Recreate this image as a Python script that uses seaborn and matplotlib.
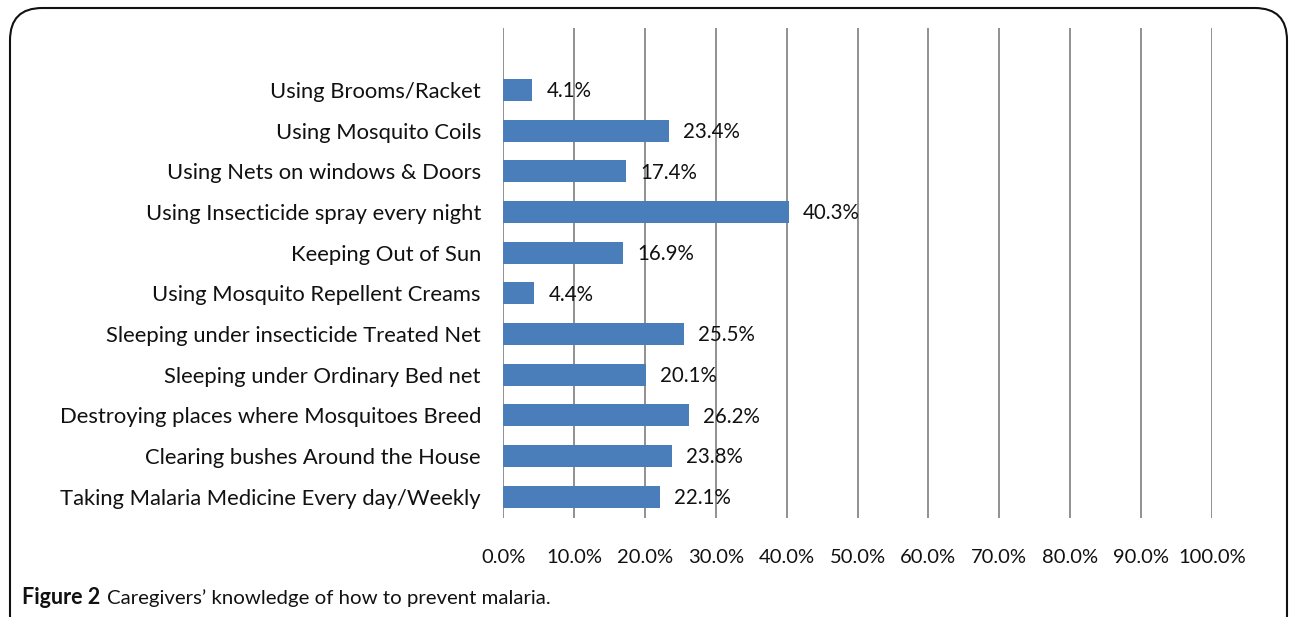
import matplotlib
matplotlib.use("Agg")
import matplotlib.pyplot as plt
import seaborn as sns
import pandas as pd
from matplotlib.patches import FancyBboxPatch

categories = [
    "Using Brooms/Racket",
    "Using Mosquito Coils",
    "Using Nets on windows & Doors",
    "Using Insecticide spray every night",
    "Keeping Out of Sun",
    "Using Mosquito Repellent Creams",
    "Sleeping under insecticide Treated Net",
    "Sleeping under Ordinary Bed net",
    "Destroying places where Mosquitoes Breed",
    "Clearing bushes Around the House",
    "Taking Malaria Medicine Every day/Weekly",
]
values = [4.1, 23.4, 17.4, 40.3, 16.9, 4.4, 25.5, 20.1, 26.2, 23.8, 22.1]
x_ticks = [0, 10, 20, 30, 40, 50, 60, 70, 80, 90, 100]
x_tick_labels = ["0.0%", "10.0%", "20.0%", "30.0%", "40.0%", "50.0%",
                 "60.0%", "70.0%", "80.0%", "90.0%", "100.0%"]

sns.set_theme(style="white")
plt.rcParams["font.family"] = ["Lato", "DejaVu Sans"]

df = pd.DataFrame({"category": categories, "value": values})

fig = plt.figure(figsize=(12.9, 6.17), dpi=100)
ax = fig.add_axes([0.390, 0.1605, 0.5495, 0.794])

sns.barplot(data=df, x="value", y="category", orient="h", color="#4a7ebb",
            saturation=1, width=0.54, linewidth=0, ax=ax, zorder=3)

ax.set_xlim(0, 100)
ax.set_ylim(10.52, -1.52)
ax.set_xticks(x_ticks)
ax.set_xticklabels(x_tick_labels, fontsize=14.5, color="#111111")
ax.grid(axis="x", color="#888888", linewidth=1.3, zorder=0)
ax.grid(axis="y", visible=False)
for s in ax.spines.values():
    s.set_visible(False)
ax.tick_params(axis="x", length=0, pad=22)
ax.tick_params(axis="y", length=0, pad=16, labelsize=15.8, labelcolor="#111111")
ax.set_xlabel("")
ax.set_ylabel("")

for i, v in enumerate(values):
    ax.text(v + 2.0, i + 0.03, f"{v:.1f}%", va="center", ha="left",
            fontsize=14.8, color="#111111", zorder=4)

# rounded frame
frame = FancyBboxPatch((10 / 1290, -0.05), 1277 / 1290, 1 - 8 / 617 + 0.05,
                       boxstyle="round,pad=0,rounding_size=0.025",
                       transform=fig.transFigure, fill=False,
                       edgecolor="#111111", linewidth=1.5, clip_on=False,
                       mutation_aspect=1290 / 617)
fig.patches.append(frame)

fig.text(22 / 1290, 1 - 598 / 617, "Figure 2", fontsize=15.5, fontweight="bold",
         ha="left", va="center", color="#111111")
fig.text(107 / 1290, 1 - 598 / 617, "Caregivers\u2019 knowledge of how to prevent malaria.",
         fontsize=14.7, ha="left", va="center", color="#111111")

fig.savefig("out.png", dpi=100)
